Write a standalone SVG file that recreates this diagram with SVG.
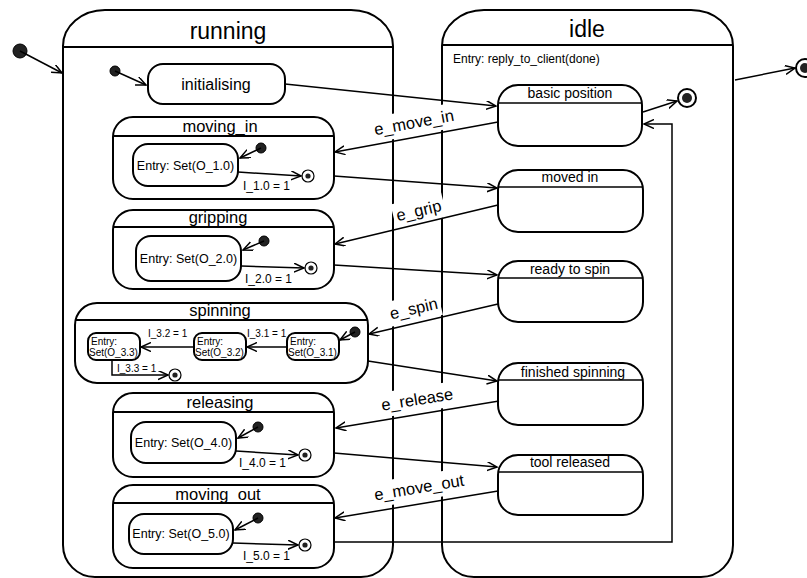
<svg xmlns="http://www.w3.org/2000/svg" width="807" height="578" viewBox="0 0 807 578">
  <style>
    text { font-family: "Liberation Sans", Arial, sans-serif; fill: #000; }
    .outer { fill: #fff; stroke: #000; stroke-width: 2; }
    .state { fill: #fff; stroke: #000; stroke-width: 2; }
    .hdr { stroke: #000; stroke-width: 2; }
    .hdr-thin { stroke: #000; stroke-width: 1.5; }
    .big { font-size: 23px; text-anchor: middle; }
    .title { font-size: 16.5px; text-anchor: middle; }
    .sub { font-size: 14px; text-anchor: middle; }
    .entry { font-size: 12.5px; text-anchor: middle; }
    .small { font-size: 10px; }
    .guard { font-size: 12px; }
    .event { font-size: 16.5px; text-anchor: middle; }
    .init { fill: #222; stroke: #000; stroke-width: 1; }
    .fin { fill: #fff; stroke: #000; }
    .fin-dot { fill: #222; }
    .tr { fill: none; stroke: #000; stroke-width: 1.5; marker-end: url(#arrow); }
    .lblbg { fill: #fff; }
  </style>
  <defs>
    <marker id="arrow" markerUnits="userSpaceOnUse" markerWidth="12" markerHeight="10" refX="10" refY="4.5" orient="auto">
      <path d="M0,0 L10,4.5 L0,9" fill="none" stroke="#000" stroke-width="1.5"/>
    </marker>
  </defs>

  <!-- top-level initial pseudo state -->
  <g id="start">
    <circle class="init" cx="20" cy="51" r="7"/>
  </g>

  <!-- running composite state -->
  <g id="running">
    <path class="outer" d="M63,46 A42,36 0 0 1 105,10 L351,10 A42,36 0 0 1 393,46 L393,545 A32,32 0 0 1 361,577 L95,577 A32,32 0 0 1 63,545 Z"/>
    <line class="hdr" x1="63" y1="47" x2="393" y2="47"/>
    <text class="big" x="228" y="39">running</text>
    <circle class="init" cx="115" cy="71" r="5"/>
  </g>

  <!-- idle composite state -->
  <g id="idle">
    <path class="outer" d="M442,46 A42,36 0 0 1 484,10 L691,10 A42,36 0 0 1 733,46 L733,545 A32,32 0 0 1 701,577 L474,577 A32,32 0 0 1 442,545 Z"/>
    <line class="hdr" x1="442" y1="45" x2="733" y2="45"/>
    <text class="big" x="587" y="37">idle</text>
    <text x="453" y="63" style="font-size:12px">Entry: reply_to_client(done)</text>
  </g>

  <g id="initialising">
    <rect class="state" x="148" y="64" width="137" height="40" rx="15"/>
    <text class="title" x="216" y="90" style="font-size:16px">initialising</text>
  </g>

  <g id="moving_in">
    <rect class="state" x="113" y="117" width="221" height="82" rx="20"/>
    <line class="hdr" x1="113" y1="136" x2="334" y2="136"/>
    <text class="title" x="220" y="132">moving_in</text>
    <rect class="state" x="133" y="144" width="105" height="42" rx="15"/>
    <text class="entry" x="185.5" y="170">Entry: Set(O_1.0)</text>
    <circle class="init" cx="261" cy="148" r="5"/>
    <circle class="fin" cx="308" cy="176" r="6" stroke-width="1.2"/>
    <circle class="fin-dot" cx="308" cy="176" r="2.6"/>
  </g>

  <g id="gripping">
    <rect class="state" x="113" y="210" width="221" height="79" rx="20"/>
    <line class="hdr" x1="113" y1="227" x2="334" y2="227"/>
    <text class="title" x="218" y="223">gripping</text>
    <rect class="state" x="136" y="236" width="105" height="45" rx="15"/>
    <text class="entry" x="188.5" y="263">Entry: Set(O_2.0)</text>
    <circle class="init" cx="264" cy="241" r="5"/>
    <circle class="fin" cx="311" cy="268" r="6" stroke-width="1.2"/>
    <circle class="fin-dot" cx="311" cy="268" r="2.6"/>
  </g>

  <g id="spinning">
    <rect class="state" x="75" y="303" width="293" height="80" rx="22"/>
    <line class="hdr" x1="75" y1="320" x2="368" y2="320"/>
    <text class="title" x="220" y="316">spinning</text>
    <rect class="state" x="88" y="333" width="52" height="27" rx="8" stroke-width="1.5"/>
    <text class="small" x="91" y="345">Entry:</text>
    <text class="small" x="89" y="356">Set(O_3.3)</text>
    <rect class="state" x="194" y="333" width="52" height="27" rx="8" stroke-width="1.5"/>
    <text class="small" x="197" y="345">Entry:</text>
    <text class="small" x="195" y="356">Set(O_3.2)</text>
    <rect class="state" x="287" y="333" width="52" height="27" rx="8" stroke-width="1.5"/>
    <text class="small" x="290" y="345">Entry:</text>
    <text class="small" x="288" y="356">Set(O_3.1)</text>
    <circle class="init" cx="355" cy="332" r="5"/>
    <circle class="fin" cx="175" cy="375" r="6" stroke-width="1.2"/>
    <circle class="fin-dot" cx="175" cy="375" r="2.6"/>
  </g>

  <g id="releasing">
    <rect class="state" x="113" y="393" width="221" height="84" rx="20"/>
    <line class="hdr" x1="113" y1="412" x2="334" y2="412"/>
    <text class="title" x="220" y="408">releasing</text>
    <rect class="state" x="131" y="422" width="105" height="41" rx="15"/>
    <text class="entry" x="183.5" y="447">Entry: Set(O_4.0)</text>
    <circle class="init" cx="258" cy="427" r="5"/>
    <circle class="fin" cx="305" cy="455" r="6" stroke-width="1.2"/>
    <circle class="fin-dot" cx="305" cy="455" r="2.6"/>
  </g>

  <g id="moving_out">
    <rect class="state" x="113" y="485" width="221" height="83" rx="20"/>
    <line class="hdr" x1="113" y1="503" x2="334" y2="503"/>
    <text class="title" x="218" y="500">moving_out</text>
    <rect class="state" x="129" y="514" width="104" height="40" rx="15"/>
    <text class="entry" x="181" y="538">Entry: Set(O_5.0)</text>
    <circle class="init" cx="258" cy="518" r="5"/>
    <circle class="fin" cx="305" cy="545" r="6" stroke-width="1.2"/>
    <circle class="fin-dot" cx="305" cy="545" r="2.6"/>
  </g>

  <g id="basic_position">
    <rect class="state" x="498" y="85" width="144" height="61" rx="20"/>
    <line class="hdr-thin" x1="498" y1="103" x2="642" y2="103"/>
    <text class="sub" x="570" y="98">basic position</text>
  </g>
  <g id="moved_in">
    <rect class="state" x="498" y="170" width="145" height="62" rx="20"/>
    <line class="hdr-thin" x1="498" y1="187" x2="643" y2="187"/>
    <text class="sub" x="570" y="182">moved in</text>
  </g>
  <g id="ready_to_spin">
    <rect class="state" x="498" y="261" width="145" height="61" rx="20"/>
    <line class="hdr-thin" x1="498" y1="278" x2="643" y2="278"/>
    <text class="sub" x="570" y="274">ready to spin</text>
  </g>
  <g id="finished_spinning">
    <rect class="state" x="498" y="363" width="145" height="62" rx="20"/>
    <line class="hdr-thin" x1="498" y1="380" x2="643" y2="380"/>
    <text class="sub" x="573" y="377">finished spinning</text>
  </g>
  <g id="tool_released">
    <rect class="state" x="498" y="455" width="145" height="60" rx="20"/>
    <line class="hdr-thin" x1="498" y1="472" x2="643" y2="472"/>
    <text class="sub" x="570" y="467">tool released</text>
  </g>

  <g id="idle_final">
    <circle class="fin" cx="687" cy="98" r="9" stroke-width="2"/>
    <circle class="fin-dot" cx="687" cy="98" r="5"/>
  </g>
  <g id="end">
    <circle class="fin" cx="805" cy="68" r="9" stroke-width="2"/>
    <circle class="fin-dot" cx="805" cy="68" r="5"/>
  </g>

  <!-- transitions -->
  <g id="connectors">
    <!-- white label backgrounds go under the transition lines -->
    <rect class="lblbg" x="-43" y="-18" width="86" height="25" transform="translate(415,128) rotate(-10.4)"/>
    <rect class="lblbg" x="-26" y="-18" width="52" height="25" transform="translate(420,216) rotate(-13.4)"/>
    <rect class="lblbg" x="-27" y="-18" width="54" height="25" transform="translate(415,314) rotate(-13)"/>
    <rect class="lblbg" x="-38" y="-18" width="76" height="25" transform="translate(418,405) rotate(-9)"/>
    <rect class="lblbg" x="-49" y="-18" width="98" height="25" transform="translate(420,493) rotate(-9.4)"/>

    <line class="tr" x1="20" y1="51" x2="62" y2="73"/>
    <line class="tr" x1="115" y1="71" x2="146" y2="85"/>
    <line class="tr" x1="285" y1="84" x2="496" y2="106"/>

    <!-- inner transitions of the sub states -->
    <line class="tr" x1="261" y1="148" x2="240" y2="158"/>
    <line class="tr" x1="238" y1="172" x2="301" y2="176"/>
    <text class="guard" x="243" y="190">I_1.0 = 1</text>
    <line class="tr" x1="264" y1="241" x2="243" y2="250"/>
    <line class="tr" x1="241" y1="266" x2="304" y2="268"/>
    <text class="guard" x="245" y="283">I_2.0 = 1</text>
    <line class="tr" x1="355" y1="332" x2="340" y2="340"/>
    <line class="tr" x1="287" y1="347" x2="247" y2="347"/>
    <text class="small" x="247" y="337">I_3.1 = 1</text>
    <line class="tr" x1="194" y1="347" x2="141" y2="347"/>
    <text class="small" x="148" y="337">I_3.2 = 1</text>
    <polyline class="tr" points="112,360 112,375 168,375"/>
    <text class="small" x="117" y="372">I_3.3 = 1</text>
    <line class="tr" x1="258" y1="427" x2="238" y2="438"/>
    <line class="tr" x1="236" y1="451" x2="298" y2="455"/>
    <text class="guard" x="239" y="467">I_4.0 = 1</text>
    <line class="tr" x1="258" y1="518" x2="235" y2="530"/>
    <line class="tr" x1="233" y1="543" x2="298" y2="545"/>
    <text class="guard" x="243" y="560">I_5.0 = 1</text>

    <!-- running <-> idle -->
    <line class="tr" x1="498" y1="122" x2="335" y2="152"/>
    <line class="tr" x1="334" y1="176" x2="497" y2="188"/>
    <line class="tr" x1="498" y1="205" x2="335" y2="244"/>
    <line class="tr" x1="334" y1="265" x2="497" y2="275"/>
    <line class="tr" x1="498" y1="304" x2="369" y2="334"/>
    <line class="tr" x1="368" y1="361" x2="497" y2="381"/>
    <line class="tr" x1="499" y1="401" x2="336" y2="428"/>
    <line class="tr" x1="334" y1="453" x2="497" y2="467"/>
    <line class="tr" x1="498" y1="491" x2="335" y2="518"/>
    <polyline class="tr" points="334,542 672,542 672,124 644,124"/>
    <line class="tr" x1="643" y1="112" x2="677" y2="101"/>
    <line class="tr" x1="735" y1="80" x2="795" y2="68"/>

    <text class="event" transform="translate(415,128) rotate(-10.4)">e_move_in</text>
    <text class="event" transform="translate(420,216) rotate(-13.4)">e_grip</text>
    <text class="event" transform="translate(415,314) rotate(-13)">e_spin</text>
    <text class="event" transform="translate(418,405) rotate(-9)">e_release</text>
    <text class="event" transform="translate(420,493) rotate(-9.4)">e_move_out</text>
  </g>
</svg>
